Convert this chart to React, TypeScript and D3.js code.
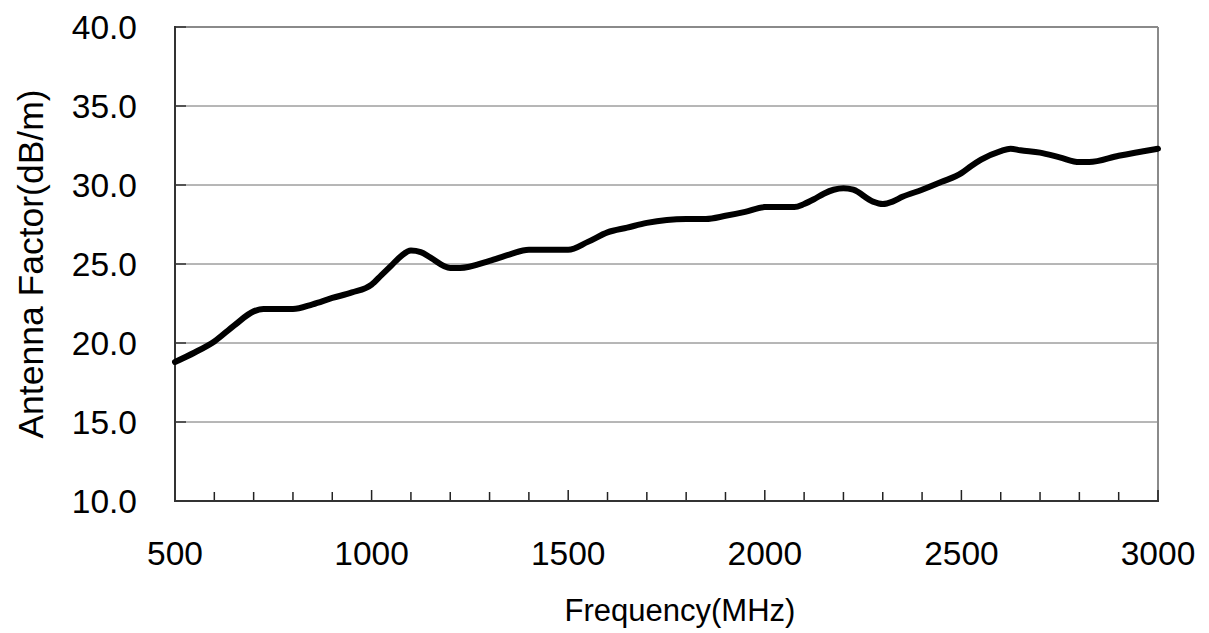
import React from "react";
import * as d3 from "d3";

const freqMHz = [500, 550, 600, 650, 700, 725, 800, 850, 900, 950, 1000, 1025, 1050, 1075, 1100, 1125, 1150, 1200, 1225, 1300, 1350, 1400, 1500, 1550, 1600, 1650, 1700, 1800, 1850, 1900, 1950, 2000, 2075, 2100, 2125, 2150, 2175, 2200, 2225, 2275, 2300, 2325, 2350, 2400, 2450, 2500, 2525, 2550, 2600, 2625, 2650, 2700, 2750, 2800, 2825, 2900, 3000];
const antennaFactor = [18.8, 19.4, 20.1, 21.1, 22.0, 22.15, 22.15, 22.45, 22.85, 23.2, 23.7, 24.3, 24.9, 25.5, 25.85, 25.75, 25.4, 24.75, 24.75, 25.2, 25.6, 25.9, 25.9, 26.4, 27.0, 27.3, 27.6, 27.85, 27.85, 28.05, 28.3, 28.6, 28.6, 28.8, 29.1, 29.45, 29.7, 29.8, 29.7, 28.95, 28.8, 28.95, 29.25, 29.7, 30.2, 30.75, 31.2, 31.6, 32.15, 32.3, 32.2, 32.05, 31.75, 31.45, 31.45, 31.85, 32.3];
const yTicks = [10, 15, 20, 25, 30, 35, 40];
const xMajorTicks = [500, 1000, 1500, 2000, 2500, 3000];
const xMinorTicks = d3.range(500, 3001, 100);
const xTitle = "Frequency(MHz)";
const yTitle = "Antenna Factor(dB/m)";

const W = 1209;
const H = 633;
const m = { left: 175, right: 1158, top: 27, bottom: 501 };
const FONT = "'Liberation Sans', Arial, sans-serif";

export default function App() {
  const x = d3.scaleLinear().domain([500, 3000]).range([m.left, m.right]);
  const y = d3.scaleLinear().domain([10, 40]).range([m.bottom, m.top]);
  const pts = freqMHz.map((f, i) => [f, antennaFactor[i]] as [number, number]);
  const line = d3
    .line<[number, number]>()
    .x((d) => x(d[0]))
    .y((d) => y(d[1]))
    .curve(d3.curveMonotoneX);

  return (
    <svg
      width={W}
      height={H}
      style={{ position: "absolute", left: 0, top: 0, background: "#fff" }}
      fontFamily={FONT}
    >
      <rect x={0} y={0} width={W} height={H} fill="#fff" />
      {yTicks
        .filter((t) => t !== 10 && t !== 40)
        .map((t) => (
          <line key={"g" + t} x1={m.left} x2={m.right} y1={y(t)} y2={y(t)} stroke="#6e6e6e" strokeWidth={1} />
        ))}
      <line x1={m.left} x2={m.right} y1={y(40)} y2={y(40)} stroke="#8a8a8a" strokeWidth={2} />
      <line x1={m.right} x2={m.right} y1={m.top} y2={m.bottom} stroke="#8a8a8a" strokeWidth={2} />
      {yTicks.map((t) => (
        <line key={"yt" + t} x1={m.left} x2={m.left + 11} y1={y(t)} y2={y(t)} stroke="#333" strokeWidth={1.5} />
      ))}
      {xMinorTicks.map((t) => {
        const major = xMajorTicks.includes(t);
        return (
          <line
            key={"xt" + t}
            x1={x(t)}
            x2={x(t)}
            y1={m.bottom}
            y2={m.bottom - (major ? 11 : 9)}
            stroke="#222"
            strokeWidth={1.5}
          />
        );
      })}
      <line x1={m.left} x2={m.left} y1={m.top - 1} y2={m.bottom + 1} stroke="#333" strokeWidth={2} />
      <line x1={m.left - 1} x2={m.right + 1} y1={m.bottom} y2={m.bottom} stroke="#333" strokeWidth={2} />
      <path d={line(pts) || ""} fill="none" stroke="#000" strokeWidth={6} strokeLinejoin="round" strokeLinecap="round" />
      {yTicks.map((t) => (
        <text key={"yl" + t} x={137} y={y(t) + 12} textAnchor="end" fontSize={33.5} fill="#000">
          {t.toFixed(1)}
        </text>
      ))}
      {xMajorTicks.map((t) => (
        <text key={"xl" + t} x={x(t)} y={565} textAnchor="middle" fontSize={33.5} fill="#000">
          {t}
        </text>
      ))}
      <text x={680} y={621} textAnchor="middle" fontSize={31} fill="#000">
        {xTitle}
      </text>
      <text
        transform={`translate(43, ${(m.top + m.bottom) / 2}) rotate(-90)`}
        textAnchor="middle"
        fontSize={35.5}
        fill="#000"
      >
        {yTitle}
      </text>
    </svg>
  );
}
